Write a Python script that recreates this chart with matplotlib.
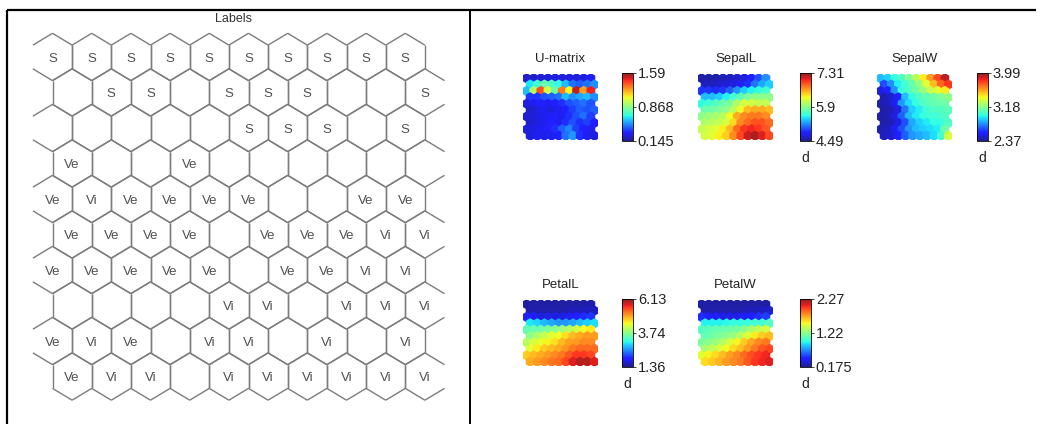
import numpy as np
import matplotlib
matplotlib.use('Agg')
from matplotlib import pyplot as plt
from matplotlib.collections import PolyCollection, LineCollection
from matplotlib.colors import Normalize, ListedColormap

plt.rcParams['font.family'] = ['Liberation Sans', 'DejaVu Sans']

W, H = 1046, 424

# 10 x 10 hexagonal SOM, row 0 at the top, odd rows shifted half a cell right
n_rows, n_cols = 10, 10

label_rows = [
    ['S', 'S', 'S', 'S', 'S', 'S', 'S', 'S', 'S', 'S'],
    ['', 'S', 'S', '', 'S', 'S', 'S', '', '', 'S'],
    ['', '', '', '', '', 'S', 'S', 'S', '', 'S'],
    ['Ve', '', '', 'Ve', '', '', '', '', '', ''],
    ['Ve', 'Vi', 'Ve', 'Ve', 'Ve', 'Ve', '', '', 'Ve', 'Ve'],
    ['Ve', 'Ve', 'Ve', 'Ve', '', 'Ve', 'Ve', 'Ve', 'Vi', 'Vi'],
    ['Ve', 'Ve', 'Ve', 'Ve', 'Ve', '', 'Ve', 'Ve', 'Vi', 'Vi'],
    ['', '', '', '', 'Vi', 'Vi', '', 'Vi', 'Vi', 'Vi'],
    ['Ve', 'Vi', 'Ve', '', 'Vi', 'Vi', '', 'Vi', '', 'Vi'],
    ['Ve', 'Vi', 'Vi', '', 'Vi', 'Vi', 'Vi', 'Vi', 'Vi', 'Vi'],
]

umatrix = [
    [0.23, 0.23, 0.25, 0.25, 0.26, 0.26, 0.26, 0.26, 0.26, 0.29],
    [0.65, 0.72, 0.80, 0.75, 0.69, 0.58, 0.46, 0.43, 0.46, 0.51],
    [0.58, 0.94, 1.37, 1.01, 0.80, 1.30, 1.08, 1.52, 1.23, 1.45],
    [0.36, 0.36, 0.41, 0.43, 0.46, 0.58, 0.51, 0.55, 0.58, 0.51],
    [0.26, 0.29, 0.32, 0.29, 0.32, 0.35, 0.41, 0.43, 0.46, 0.41],
    [0.23, 0.26, 0.29, 0.26, 0.29, 0.32, 0.38, 0.43, 0.41, 0.43],
    [0.25, 0.25, 0.28, 0.29, 0.32, 0.29, 0.35, 0.41, 0.46, 0.38],
    [0.23, 0.26, 0.29, 0.32, 0.29, 0.35, 0.41, 0.35, 0.38, 0.32],
    [0.26, 0.26, 0.29, 0.32, 0.35, 0.43, 0.49, 0.38, 0.32, 0.29],
    [0.26, 0.29, 0.28, 0.29, 0.32, 0.46, 0.52, 0.35, 0.29, 0.26],
]

sepal_l = [
    [4.55, 4.55, 4.57, 4.60, 4.63, 4.66, 4.72, 4.83, 5.00, 5.20],
    [4.63, 4.63, 4.66, 4.69, 4.72, 4.77, 4.88, 5.11, 5.28, 5.39],
    [4.91, 4.91, 4.88, 4.91, 5.05, 5.22, 5.39, 5.51, 5.56, 5.62],
    [5.34, 5.34, 5.39, 5.51, 5.62, 5.73, 5.84, 5.90, 5.90, 5.90],
    [5.56, 5.62, 5.67, 5.76, 5.84, 6.04, 6.18, 6.18, 6.13, 6.13],
    [5.76, 5.79, 5.84, 5.90, 6.07, 6.29, 6.52, 6.58, 6.58, 6.52],
    [5.90, 5.96, 6.01, 6.07, 6.29, 6.58, 6.69, 6.75, 6.75, 6.69],
    [6.04, 6.07, 6.13, 6.18, 6.41, 6.69, 6.80, 6.89, 6.89, 6.80],
    [6.13, 6.18, 6.24, 6.35, 6.52, 6.80, 6.97, 7.03, 6.97, 6.86],
    [6.18, 6.24, 6.35, 6.46, 6.69, 6.92, 7.14, 7.23, 7.08, 6.92],
]

sepal_w = [
    [2.86, 2.89, 2.99, 3.05, 3.15, 3.28, 3.44, 3.60, 3.76, 3.91],
    [2.66, 2.78, 2.95, 3.02, 3.10, 3.21, 3.37, 3.54, 3.70, 3.80],
    [2.50, 2.56, 2.78, 2.99, 3.05, 3.12, 3.21, 3.31, 3.37, 3.44],
    [2.43, 2.47, 2.56, 2.86, 2.99, 3.05, 3.08, 3.12, 3.15, 3.18],
    [2.42, 2.45, 2.53, 2.79, 2.92, 2.99, 3.05, 3.08, 3.10, 3.12],
    [2.42, 2.43, 2.50, 2.73, 2.89, 2.95, 3.02, 3.05, 3.05, 3.08],
    [2.42, 2.43, 2.50, 2.69, 2.86, 2.94, 2.99, 3.02, 3.02, 3.05],
    [2.42, 2.43, 2.50, 2.66, 2.82, 2.89, 2.94, 2.99, 2.99, 3.05],
    [2.43, 2.45, 2.53, 2.66, 2.79, 2.86, 2.89, 2.92, 2.95, 3.12],
    [2.45, 2.47, 2.56, 2.69, 2.79, 2.82, 2.86, 2.92, 3.02, 3.34],
]

petal_l = [
    [1.46, 1.46, 1.46, 1.46, 1.46, 1.46, 1.46, 1.46, 1.46, 1.50],
    [1.50, 1.50, 1.50, 1.50, 1.50, 1.50, 1.55, 1.55, 1.60, 1.60],
    [1.93, 1.84, 1.74, 1.74, 1.74, 1.74, 1.84, 1.93, 2.03, 2.08],
    [3.03, 2.93, 2.79, 2.70, 2.60, 2.60, 2.70, 2.79, 2.89, 2.98],
    [3.46, 3.51, 3.55, 3.65, 3.75, 3.84, 4.03, 4.22, 4.41, 4.51],
    [3.75, 3.94, 4.13, 4.32, 4.41, 4.60, 4.79, 4.89, 4.99, 4.99],
    [4.03, 4.22, 4.37, 4.46, 4.60, 4.79, 4.94, 4.99, 5.08, 5.08],
    [4.32, 4.51, 4.70, 4.79, 4.89, 5.03, 5.18, 5.27, 5.27, 5.27],
    [4.70, 4.79, 4.89, 4.99, 5.08, 5.18, 5.37, 5.56, 5.56, 5.46],
    [4.89, 4.99, 5.08, 5.18, 5.27, 5.46, 5.75, 5.94, 5.94, 5.75],
]

petal_w = [
    [0.22, 0.22, 0.22, 0.22, 0.22, 0.22, 0.22, 0.22, 0.22, 0.22],
    [0.24, 0.24, 0.24, 0.24, 0.24, 0.24, 0.26, 0.26, 0.28, 0.30],
    [0.47, 0.43, 0.39, 0.36, 0.36, 0.36, 0.39, 0.43, 0.47, 0.51],
    [0.93, 0.93, 0.93, 0.95, 0.97, 0.97, 0.99, 1.01, 1.01, 1.06],
    [1.06, 1.08, 1.10, 1.12, 1.14, 1.16, 1.22, 1.31, 1.39, 1.43],
    [1.10, 1.14, 1.18, 1.22, 1.26, 1.35, 1.47, 1.56, 1.64, 1.68],
    [1.18, 1.22, 1.26, 1.33, 1.43, 1.54, 1.64, 1.73, 1.81, 1.85],
    [1.31, 1.37, 1.43, 1.52, 1.60, 1.68, 1.77, 1.85, 1.94, 1.98],
    [1.47, 1.54, 1.60, 1.68, 1.75, 1.81, 1.89, 1.96, 2.02, 2.06],
    [1.60, 1.64, 1.70, 1.77, 1.81, 1.85, 1.94, 2.02, 2.06, 2.10],
]

# colour ranges and tick labels shown on the colour bars
plane_names = ['U-matrix', 'SepalL', 'SepalW', 'PetalL', 'PetalW']
plane_values = [umatrix, sepal_l, sepal_w, petal_l, petal_w]
plane_ranges = [(0.145, 1.59), (4.49, 7.31), (2.37, 3.99), (1.36, 6.13), (0.175, 2.27)]
plane_ticks = [['0.145', '0.868', '1.59'], ['4.49', '5.9', '7.31'], ['2.37', '3.18', '3.99'],
               ['1.36', '3.74', '6.13'], ['0.175', '1.22', '2.27']]
plane_units = ['', 'd', 'd', 'd', 'd']


def px_box(x0, y0, x1, y1):
    # pixel box (top-down) -> figure fraction rect
    return [x0 / W, 1 - y1 / H, (x1 - x0) / W, (y1 - y0) / H]


def fx(x):
    return x / W


def fy(y):
    return 1 - y / H


# jet, slightly washed out like the scanned original
jet_rgba = plt.get_cmap('jet')(np.linspace(0, 1, 256))
jet_rgba[:, :3] = 0.88 * jet_rgba[:, :3] + 0.12
soft_jet = ListedColormap(jet_rgba)

# hexagon (pointy top); y grows downwards
hex_dx = np.array([0, 0.5, 0.5, 0, -0.5, -0.5])
hex_dy = np.array([-2 / 3, -1 / 3, 1 / 3, 2 / 3, 1 / 3, -1 / 3])

rr, cc = np.mgrid[0:n_rows, 0:n_cols]
rows_flat = rr.ravel()
cols_flat = cc.ravel()
cx = cols_flat + 0.5 * (rows_flat % 2)
cy = rows_flat.astype(float)
verts = np.stack([np.column_stack([x + hex_dx, y + hex_dy]) for x, y in zip(cx, cy)])


def grid_limits(ax):
    ax.set_xlim(-0.5, n_cols)
    ax.set_ylim(n_rows - 1 + 2 / 3, -2 / 3)
    ax.axis('off')


fig = plt.figure(figsize=(W / 100, H / 100), dpi=100)
fig.patch.set_facecolor('white')

# frame lines
frame = fig.add_axes([0, 0, 1, 1])
frame.set_xlim(0, W)
frame.set_ylim(H, 0)
frame.axis('off')
frame.plot([7, 1036], [10, 10], color='black', lw=1.6, solid_capstyle='butt')
frame.plot([7, 7], [10, H], color='black', lw=1.6, solid_capstyle='butt')
frame.plot([470, 470], [10, H], color='black', lw=1.4, solid_capstyle='butt')

# ---- Labels map ----
fig.text(fx(233), fy(19), 'Labels', ha='center', va='center', fontsize=9, color='#333333')
ax_lab = fig.add_axes(px_box(32.9, 33.3, 444.5, 400.2))
grid_limits(ax_lab)
segs = []
for r, c, v in zip(rows_flat, cols_flat, verts):
    for k in range(6):
        # outer vertical edges of the protruding cells are not drawn
        if k == 4 and r % 2 == 0 and c == 0:
            continue
        if k == 1 and r % 2 == 1 and c == n_cols - 1:
            continue
        segs.append([v[k], v[(k + 1) % 6]])
ax_lab.add_collection(LineCollection(segs, colors='#7c7c7c', linewidths=1.0, clip_on=False))
for x, y, r, c in zip(cx, cy, rows_flat, cols_flat):
    lab = label_rows[r][c]
    if lab:
        ax_lab.text(x, y + 0.05, lab, ha='center', va='center', fontsize=9.5, color='#505050')

# ---- component planes ----
plane_boxes = [(523, 74, 598, 140), (698, 74, 773, 140), (877, 74, 952, 140),
               (523, 300, 598, 366), (698, 300, 773, 366)]
cbar_boxes = [(622, 73, 633, 141), (800, 73, 811, 141), (977, 73, 988, 141),
              (622, 299, 633, 367), (800, 299, 811, 367)]

for name, vals, (vmin, vmax), ticks, unit, pbox, cbox in zip(
        plane_names, plane_values, plane_ranges, plane_ticks, plane_units, plane_boxes, cbar_boxes):
    ax = fig.add_axes(px_box(*pbox))
    grid_limits(ax)
    coll = PolyCollection(verts, cmap=soft_jet, norm=Normalize(vmin, vmax),
                          edgecolors='face', linewidths=1.2)
    coll.set_array(np.asarray(vals, dtype=float).ravel())
    ax.add_collection(coll)
    fig.text(fx((pbox[0] + pbox[2]) / 2), fy(pbox[1] - 15), name,
             ha='center', va='center', fontsize=9.5, color='#222222')

    cax = fig.add_axes(px_box(*cbox))
    cb = fig.colorbar(coll, cax=cax)
    cb.set_ticks([vmin, (vmin + vmax) / 2, vmax], labels=ticks)
    cax.tick_params(length=2.5, width=0.6, pad=1, labelsize=10.5, colors='#222222')
    cb.outline.set_linewidth(0.6)
    if unit:
        fig.text(fx(cbox[0] + 1), fy(cbox[3] + 17), unit, ha='left', va='center',
                 fontsize=10, color='#222222')

fig.savefig('out.png', dpi=100)
